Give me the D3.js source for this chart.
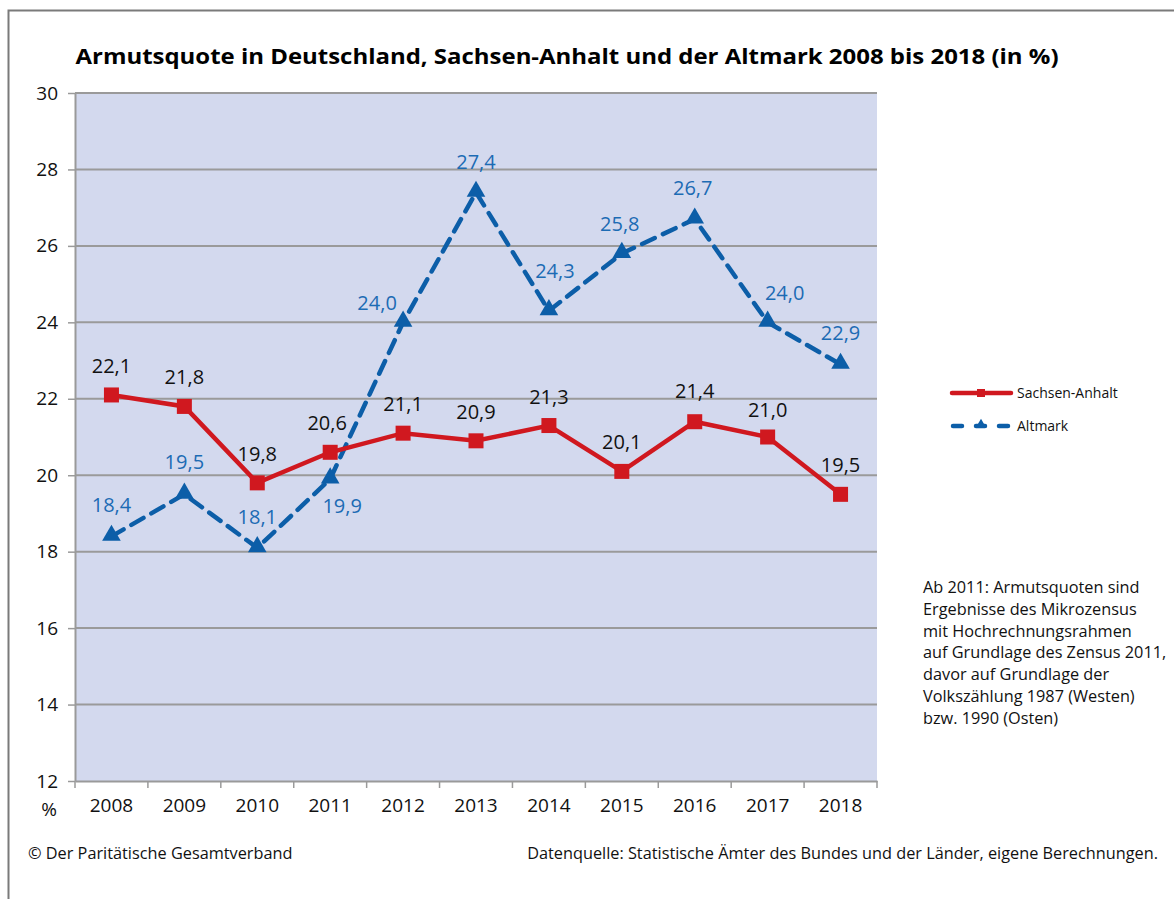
<!DOCTYPE html>
<html lang="de">
<head>
    <meta charset="UTF-8">
    <script src="https://d3js.org/d3.v7.min.js"></script>
    <style>
        body { margin: 0; background: white; }
        text { font-family: "Open Sans", "Noto Sans", sans-serif; }
    </style>
</head>
<body>
    <svg id="chart" width="1174" height="899"></svg>
    <script>
        const years = ["2008", "2009", "2010", "2011", "2012", "2013", "2014", "2015", "2016", "2017", "2018"];
        const sachsenAnhalt = [22.1, 21.8, 19.8, 20.6, 21.1, 20.9, 21.3, 20.1, 21.4, 21.0, 19.5];
        const altmark = [18.4, 19.5, 18.1, 19.9, 24.0, 27.4, 24.3, 25.8, 26.7, 24.0, 22.9];
        const yTicks = [12, 14, 16, 18, 20, 22, 24, 26, 28, 30];
        const noteLines = [
            "Ab 2011: Armutsquoten sind",
            "Ergebnisse des  Mikrozensus",
            "mit Hochrechnungsrahmen",
            "auf Grundlage des Zensus 2011,",
            "davor auf Grundlage der",
            "Volkszählung 1987 (Westen)",
            "bzw. 1990 (Osten)"
        ];

        const red = "#d0181f";
        const blue = "#0c5ea8";
        const blueText = "#1c6bb4";

        const margin = { top: 93, right: 297, bottom: 118, left: 75 };
        const width = 1174, height = 899;

        const svg = d3.select("#chart");

        // outer frame (runs off the right/bottom edge)
        svg.append("rect")
            .attr("x", 8.5).attr("y", 10.5)
            .attr("width", 1200).attr("height", 1000)
            .attr("fill", "white")
            .attr("stroke", "#7a7a7a")
            .attr("stroke-width", 2);

        svg.append("text")
            .attr("x", 567)
            .attr("y", 64)
            .attr("text-anchor", "middle")
            .attr("textLength", 983)
            .attr("lengthAdjust", "spacingAndGlyphs")
            .style("font-size", "22px")
            .style("font-weight", "bold")
            .text("Armutsquote in Deutschland,  Sachsen-Anhalt und der Altmark 2008 bis 2018 (in %)");

        const x = d3.scaleBand()
            .domain(years)
            .range([margin.left, width - margin.right])
            .padding(0);

        const y = d3.scaleLinear()
            .domain([12, 30])
            .range([height - margin.bottom, margin.top]);

        // plot background
        svg.append("rect")
            .attr("x", margin.left)
            .attr("y", y(30))
            .attr("width", x.range()[1] - margin.left)
            .attr("height", y(12) - y(30))
            .attr("fill", "#d3d9ee");

        // gridlines
        svg.append("g")
            .selectAll("line")
            .data(yTicks.filter(d => d > 12))
            .enter().append("line")
            .attr("x1", margin.left)
            .attr("x2", x.range()[1])
            .attr("y1", d => y(d))
            .attr("y2", d => y(d))
            .attr("stroke", "#9a9a9a")
            .attr("stroke-width", 2);

        // y axis
        const yAxis = svg.append("g")
            .attr("transform", `translate(${margin.left},0)`)
            .call(d3.axisLeft(y).tickValues(yTicks).tickSize(7).tickSizeOuter(0).tickPadding(10));
        yAxis.select(".domain").attr("stroke", "#9a9a9a").attr("stroke-width", 2);
        yAxis.selectAll(".tick line").attr("stroke", "#9a9a9a").attr("stroke-width", 1.5);
        yAxis.selectAll(".tick text")
            .style("font-size", "19px")
            .attr("fill", "#111")
            .style("font-family", "'Open Sans', sans-serif");

        // x axis
        const xAxis = svg.append("g")
            .attr("transform", `translate(0,${y(12)})`)
            .call(d3.axisBottom(x).tickSize(0).tickPadding(18));
        xAxis.select(".domain").attr("stroke", "#9a9a9a").attr("stroke-width", 2);
        xAxis.selectAll(".tick text")
            .style("font-size", "19px")
            .attr("fill", "#111")
            .style("font-family", "'Open Sans', sans-serif");

        // category boundary ticks
        svg.append("g")
            .selectAll("line")
            .data(years.concat(["end"]))
            .enter().append("line")
            .attr("x1", (d, i) => i < years.length ? x(d) : x.range()[1])
            .attr("x2", (d, i) => i < years.length ? x(d) : x.range()[1])
            .attr("y1", y(12))
            .attr("y2", y(12) + 7)
            .attr("stroke", "#9a9a9a")
            .attr("stroke-width", 1.5);

        svg.append("text")
            .attr("x", 49)
            .attr("y", y(12) + 35)
            .attr("text-anchor", "middle")
            .style("font-size", "19px")
            .attr("fill", "#111")
            .text("%");

        const cx = d => x(d) + x.bandwidth() / 2;

        const line = d3.line()
            .x((d, i) => cx(years[i]))
            .y(d => y(d));

        // Altmark (dashed blue)
        svg.append("path")
            .datum(altmark)
            .attr("d", line)
            .attr("fill", "none")
            .attr("stroke", blue)
            .attr("stroke-width", 4.5)
            .attr("stroke-dasharray", "14,9")
            .attr("stroke-linecap", "round");

        svg.append("g")
            .selectAll("path")
            .data(altmark)
            .enter().append("path")
            .attr("d", d3.symbol().type(d3.symbolTriangle).size(150))
            .attr("transform", (d, i) => `translate(${cx(years[i])},${y(d) - 1})`)
            .attr("fill", blue);

        // Sachsen-Anhalt (solid red)
        svg.append("path")
            .datum(sachsenAnhalt)
            .attr("d", line)
            .attr("fill", "none")
            .attr("stroke", red)
            .attr("stroke-width", 4.5);

        svg.append("g")
            .selectAll("rect")
            .data(sachsenAnhalt)
            .enter().append("rect")
            .attr("x", (d, i) => cx(years[i]) - 7.5)
            .attr("y", d => y(d) - 7.5)
            .attr("width", 15)
            .attr("height", 15)
            .attr("fill", red);

        const fmt = v => v.toFixed(1).replace(".", ",");

        // value labels: offsets relative to the marker
        const redOffsets = [[0, -29], [0, -29], [0, -29], [-3, -29], [0, -29], [0, -29], [0, -29], [0, -29], [0, -31], [0, -27], [0, -29]];
        const blueOffsets = [[0, -31], [0, -32], [0, -31], [12, 27], [-26, -19], [0, -30], [6, -40], [-2, -30], [-2, -31], [17, -29], [0, -31]];

        svg.append("g")
            .selectAll("text")
            .data(sachsenAnhalt)
            .enter().append("text")
            .attr("x", (d, i) => cx(years[i]) + redOffsets[i][0])
            .attr("y", (d, i) => y(d) + redOffsets[i][1])
            .attr("dy", "0.35em")
            .attr("text-anchor", "middle")
            .style("font-size", "20px")
            .attr("fill", "#111")
            .text(fmt);

        svg.append("g")
            .selectAll("text")
            .data(altmark)
            .enter().append("text")
            .attr("x", (d, i) => cx(years[i]) + blueOffsets[i][0])
            .attr("y", (d, i) => y(d) + blueOffsets[i][1])
            .attr("dy", "0.35em")
            .attr("text-anchor", "middle")
            .style("font-size", "20px")
            .attr("fill", blueText)
            .text(fmt);

        // legend
        const legend = svg.append("g");
        legend.append("line")
            .attr("x1", 952).attr("x2", 1011)
            .attr("y1", 393).attr("y2", 393)
            .attr("stroke", red).attr("stroke-width", 4.5)
            .attr("stroke-linecap", "round");
        legend.append("rect")
            .attr("x", 977).attr("y", 389).attr("width", 8).attr("height", 8)
            .attr("fill", red);
        legend.append("text")
            .attr("x", 1017).attr("y", 393).attr("dy", "0.35em")
            .style("font-size", "14px").attr("fill", "#111")
            .text("Sachsen-Anhalt");

        legend.append("line")
            .attr("x1", 953).attr("x2", 1010)
            .attr("y1", 426).attr("y2", 426)
            .attr("stroke", blue).attr("stroke-width", 4.5)
            .attr("stroke-dasharray", "9,14")
            .attr("stroke-linecap", "round");
        legend.append("path")
            .attr("d", d3.symbol().type(d3.symbolTriangle).size(50))
            .attr("transform", "translate(981,425)")
            .attr("fill", blue);
        legend.append("text")
            .attr("x", 1017).attr("y", 426).attr("dy", "0.35em")
            .style("font-size", "14px").attr("fill", "#111")
            .text("Altmark");

        // note
        svg.append("g")
            .selectAll("text")
            .data(noteLines)
            .enter().append("text")
            .attr("x", 923)
            .attr("y", (d, i) => 593 + i * 21.8)
            .style("font-size", "16.3px")
            .attr("fill", "#111")
            .text(d => d);

        svg.append("text")
            .attr("x", 28).attr("y", 859)
            .style("font-size", "16.3px").attr("fill", "#111")
            .text("© Der Paritätische Gesamtverband");

        svg.append("text")
            .attr("x", 1158).attr("y", 859)
            .attr("text-anchor", "end")
            .style("font-size", "16.3px").attr("fill", "#111")
            .text("Datenquelle: Statistische Ämter des Bundes und der Länder, eigene Berechnungen.");
    </script>
</body>
</html>
